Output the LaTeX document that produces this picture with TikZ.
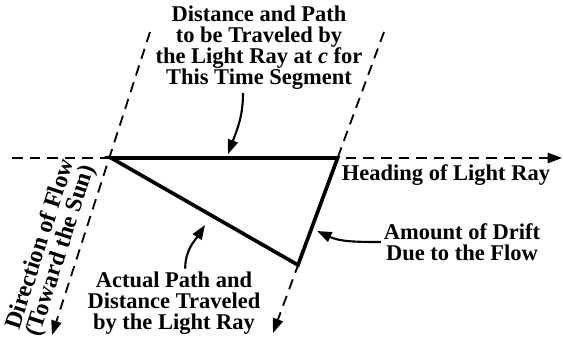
\documentclass[tikz,border=0pt]{standalone}
\usepackage{fontspec}
\setmainfont{Liberation Serif}
\usetikzlibrary{arrows.meta,positioning}
\tikzset{
  >={Triangle[length=3.6mm,width=2.6mm]},
  guide/.style={->,line width=1.3pt,dash pattern=on 7.5pt off 5pt},
  ray/.style={line width=2.6pt,line join=miter},
  callout/.style={->,line width=1.5pt},
  lbl/.style={font=\fontsize{16}{15}\selectfont\bfseries,align=center,inner sep=2pt},
}
\begin{document}
\begin{tikzpicture}
  \useasboundingbox (0,0) rectangle (14.075,8.475);
  % guide lines
  \coordinate (hl) at (0.3,4.525);
  \coordinate (hr) at (14.05,4.525);
  \coordinate (lt) at (3.75,7.675);
  \coordinate (lb) at (1.3,0.1);
  \coordinate (rt) at (9.6,7.675);
  \coordinate (rb) at (6.825,0.15);
  \draw[guide] (hl) -- (hr);
  \draw[guide] (lt) -- (lb);
  \draw[guide] (rt) -- (rb);
  % triangle
  \coordinate (a) at (2.78,4.525);
  \coordinate (b) at (8.44,4.525);
  \coordinate (c) at (7.45,1.85);
  \draw[ray] (a) -- (b) -- (c) -- cycle;
  % labels
  \node[lbl] (travel) at (6.475,7.275) {Distance and Path\\to be Traveled by\\the Light Ray at \textit{c} for\\This Time Segment};
  \node[lbl] (heading) at (11.15,4.1) {Heading of Light Ray};
  \node[lbl] (drift) at (11.55,2.425) {Amount of Drift\\Due to the Flow};
  \node[lbl] (actual) at (4.35,0.9) {Actual Path and\\Distance Traveled\\by the Light Ray};
  \node[lbl,font=\fontsize{17}{15.2}\selectfont\bfseries,rotate=72] (flow) at (1.28,2.28) {Direction of Flow\\(Toward the Sun)};
  % callouts
  \coordinate (t1) at (5.7,4.62);
  \coordinate (t2) at (7.93,2.7);
  \coordinate (t3) at (5.125,2.85);
  \draw[callout] ([xshift=-4mm]travel.south) to[out=-90,in=70] (t1);
  \draw[callout] (drift.west) to[out=180,in=-25] (t2);
  \draw[callout] ([xshift=2.8mm]actual.north) to[out=90,in=-123] (t3);
\end{tikzpicture}
\end{document}
